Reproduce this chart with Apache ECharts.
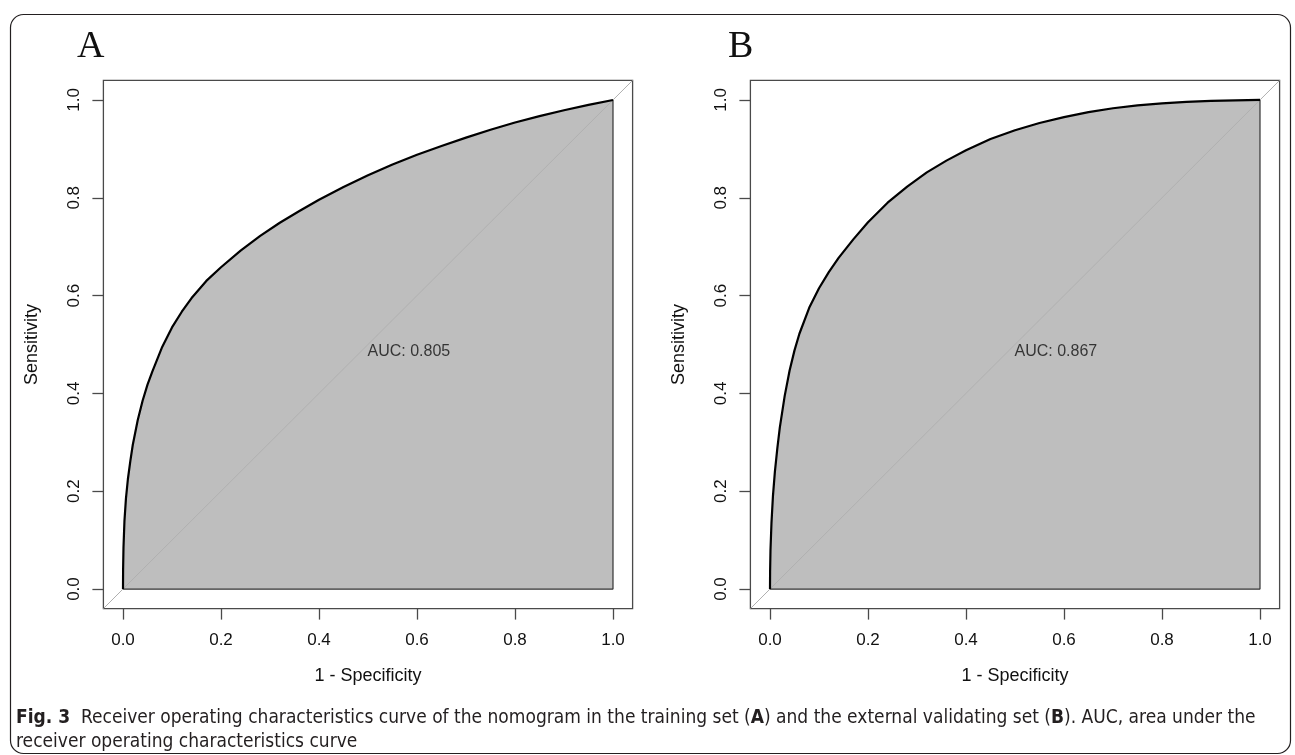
<!DOCTYPE html>
<html>
<head>
<meta charset="utf-8">
<script src="https://cdn.jsdelivr.net/npm/echarts@6/dist/echarts.min.js"></script>
<style>
  html, body { margin: 0; padding: 0; background: #fff; }
  #main { width: 1295px; height: 755px; }
</style>
</head>
<body>
<div id="main"></div>
<script>
// 1 - specificity values where the curves were read
var fpr = [0, 0.0002, 0.001, 0.003, 0.006, 0.01, 0.015, 0.02, 0.03, 0.04, 0.05, 0.06, 0.08, 0.10, 0.12, 0.14, 0.17, 0.20, 0.24, 0.28, 0.32, 0.36, 0.40, 0.45, 0.50, 0.55, 0.60, 0.65, 0.70, 0.75, 0.80, 0.85, 0.90, 0.95, 1.0];
// sensitivity, training set (A)
var tprA = [0, 0.04, 0.085, 0.14, 0.185, 0.225, 0.262, 0.295, 0.345, 0.385, 0.418, 0.445, 0.495, 0.535, 0.567, 0.595, 0.63, 0.658, 0.692, 0.722, 0.749, 0.773, 0.796, 0.822, 0.846, 0.868, 0.888, 0.906, 0.923, 0.939, 0.954, 0.967, 0.979, 0.99, 1.0];
// sensitivity, external validating set (B)
var tprB = [0, 0.035, 0.08, 0.135, 0.19, 0.24, 0.288, 0.33, 0.395, 0.447, 0.488, 0.522, 0.575, 0.615, 0.648, 0.677, 0.715, 0.75, 0.79, 0.823, 0.852, 0.876, 0.897, 0.92, 0.938, 0.953, 0.965, 0.975, 0.983, 0.989, 0.993, 0.996, 0.998, 0.999, 1.0];

var tickVals = [0, 0.2, 0.4, 0.6, 0.8, 1.0];
var diagEnds = [-0.04, 1.04];
var aucLabels = ['AUC: 0.805', 'AUC: 0.867'];
var panelLetters = ['A', 'B'];

var ff = "'Liberation Sans', Arial, sans-serif";
var txt = '#111';
var boxCol = '#4a4a4a';

var chart = echarts.init(document.getElementById('main'));

function pairs(xs, ys) {
    return xs.map(function (x, i) { return [x, ys[i]]; });
}

var gridLefts = [103.4, 750.4];
var grids = [], xAxes = [], yAxes = [], series = [];

gridLefts.forEach(function (left, i) {
    grids.push({
        left: left, top: 80.4, width: 529.2, height: 528.2,
        show: true, borderColor: boxCol, borderWidth: 1.3, backgroundColor: 'transparent'
    });
    xAxes.push({
        type: 'value', gridIndex: i, min: diagEnds[0], max: diagEnds[1], position: 'bottom',
        name: '1 - Specificity', nameLocation: 'middle', nameGap: 58,
        nameTextStyle: { fontSize: 18, color: txt, fontFamily: ff },
        axisLine: { show: false, onZero: false },
        axisTick: { show: true, inside: false, length: 11, customValues: tickVals, lineStyle: { color: boxCol, width: 1.3 } },
        axisLabel: {
            show: true, customValues: tickVals, margin: 23, fontSize: 17, color: txt, fontFamily: ff,
            formatter: function (v) { return v.toFixed(1); }
        },
        splitLine: { show: false }
    });
    yAxes.push({
        type: 'value', gridIndex: i, min: diagEnds[0], max: diagEnds[1], position: 'left',
        name: 'Sensitivity', nameLocation: 'middle', nameGap: 62,
        nameTextStyle: { fontSize: 18, color: txt, fontFamily: ff },
        axisLine: { show: false, onZero: false },
        axisTick: { show: true, inside: false, length: 11, customValues: tickVals, lineStyle: { color: boxCol, width: 1.3 } },
        axisLabel: {
            show: true, customValues: tickVals, margin: 21, rotate: 90, fontSize: 17, color: txt, fontFamily: ff,
            formatter: function (v) { return v.toFixed(1); }
        },
        splitLine: { show: false }
    });

    var tpr = i === 0 ? tprA : tprB;
    var curve = pairs(fpr, tpr);

    // filled AUC polygon
    series.push({
        type: 'line', xAxisIndex: i, yAxisIndex: i, data: curve, showSymbol: false,
        z: 1, silent: true,
        lineStyle: { width: 0 },
        areaStyle: { color: '#bebebe', opacity: 1 }
    });
    // identity line
    series.push({
        type: 'line', xAxisIndex: i, yAxisIndex: i, data: pairs(diagEnds, diagEnds), showSymbol: false,
        z: 2, silent: true, lineStyle: { color: '#b0b0b0', width: 1 }
    });
    // polygon border (bottom + right)
    series.push({
        type: 'line', xAxisIndex: i, yAxisIndex: i, data: pairs([0, 1, 1], [0, 0, 1]), showSymbol: false,
        z: 3, silent: true, lineStyle: { color: '#333', width: 1.2 }
    });
    // ROC curve
    series.push({
        type: 'line', xAxisIndex: i, yAxisIndex: i, data: curve, showSymbol: false,
        z: 4, silent: true,
        lineStyle: { color: '#000', width: 2.2, join: 'round' }
    });
    // AUC text at (0.5, 0.5), left/top anchored like pROC
    series.push({
        type: 'scatter', xAxisIndex: i, yAxisIndex: i, data: [[0.5, 0.5]],
        symbolSize: 1, itemStyle: { color: 'rgba(0,0,0,0)' }, z: 5, silent: true,
        label: {
            show: true, position: [0, 0], align: 'left', verticalAlign: 'top',
            formatter: aucLabels[i], fontSize: 16, color: txt, fontFamily: ff
        }
    });
});

var capFont = "'Liberation Sans Narrow', 'DejaVu Sans Condensed', 'Liberation Sans', sans-serif";

chart.setOption({
    backgroundColor: '#fff',
    animation: false,
    grid: grids,
    xAxis: xAxes,
    yAxis: yAxes,
    series: series,
    graphic: [
        {
            type: 'rect', left: 8, top: 12, silent: true,
            shape: { width: 1280, height: 739, r: 13 },
            style: { fill: 'none', stroke: '#231f20', lineWidth: 1.2 }
        },
        {
            type: 'text', left: 77, top: 28, silent: true,
            style: { text: panelLetters[0], font: "38px 'Liberation Serif', serif", fill: txt }
        },
        {
            type: 'text', left: 728, top: 28, silent: true,
            style: { text: panelLetters[1], font: "38px 'Liberation Serif', serif", fill: txt }
        },
        {
            type: 'text', left: 16, top: 709, silent: true,
            style: {
                text: '{b|Fig. 3}  Receiver operating characteristics curve of the nomogram in the training set ({b|A}) and the external validating set ({b|B}). AUC, area under the',
                fontSize: 19, fontFamily: capFont, fill: '#231f20',
                rich: { b: { fontWeight: 'bold', fontSize: 19, fontFamily: capFont, fill: '#231f20' } }
            }
        },
        {
            type: 'text', left: 16, top: 733, silent: true,
            style: { text: 'receiver operating characteristics curve', fontSize: 19, fontFamily: capFont, fill: '#231f20' }
        }
    ]
});
</script>
</body>
</html>
